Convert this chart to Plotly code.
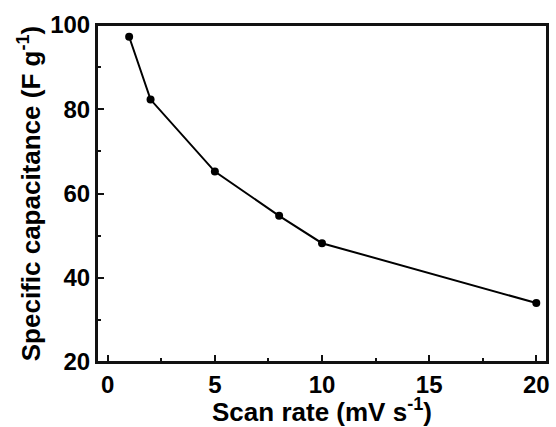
import plotly.graph_objects as go

scan_rate = [1, 2, 5, 8, 10, 20]
capacitance = [97.2, 82.3, 65.2, 54.7, 48.2, 34.0]
x_ticks = [0, 5, 10, 15, 20]
y_ticks = [20, 40, 60, 80, 100]
x_range = [-0.5, 20.5]
y_range = [20, 100]

FONT = "Liberation Sans, Arial, sans-serif"
INK = "#111111"

fig = go.Figure()
# plot frame following the axis range
fig.add_trace(go.Scatter(
    x=[x_range[0], x_range[1], x_range[1], x_range[0], x_range[0]],
    y=[y_range[0], y_range[0], y_range[1], y_range[1], y_range[0]],
    mode="lines", line=dict(color=INK, width=2), cliponaxis=False,
    showlegend=False, hoverinfo="skip",
))
fig.add_trace(go.Scatter(
    x=scan_rate, y=capacitance, mode="lines+markers",
    line=dict(color="black", width=2),
    marker=dict(color="black", size=8),
    showlegend=False,
))
for xa, ya in (("x2", "y2"), ("x3", "y3")):
    fig.add_trace(go.Scatter(
        x=scan_rate, y=capacitance, mode="markers", xaxis=xa, yaxis=ya,
        marker=dict(opacity=0), showlegend=False, hoverinfo="skip",
    ))

tick_font = dict(family=FONT, size=24, color="black", weight="bold")
title_font = dict(family=FONT, size=26, color="black", weight="bold")

def tick_axis(rng, overlay, anchor, side, tick0, dtick, length):
    return dict(
        range=rng, overlaying=overlay, anchor=anchor, side=side,
        tickmode="linear", tick0=tick0, dtick=dtick,
        ticks="inside", ticklen=length, tickwidth=2, tickcolor=INK,
        showticklabels=False, showline=False, showgrid=False, zeroline=False,
    )

x_step = x_ticks[1] - x_ticks[0]
y_step = y_ticks[1] - y_ticks[0]

fig.update_layout(
    width=556, height=427,
    margin=dict(l=97, r=6, t=25, b=65),
    paper_bgcolor="white", plot_bgcolor="white",
    xaxis=dict(
        range=x_range, tickmode="array", tickvals=x_ticks,
        ticktext=[str(v) for v in x_ticks],
        showline=True, linecolor=INK, linewidth=2, mirror=True,
        ticks="inside", ticklen=7, tickwidth=2, tickcolor=INK,
        showgrid=False, zeroline=False, tickfont=tick_font,
        title=dict(text="Scan rate (mV s<sup>-1</sup>)", font=title_font, standoff=0),
    ),
    yaxis=dict(
        range=y_range, tickmode="array", tickvals=y_ticks,
        ticktext=[str(v) for v in y_ticks],
        showline=True, linecolor=INK, linewidth=2, mirror=True,
        ticks="inside", ticklen=7, tickwidth=2, tickcolor=INK,
        showgrid=False, zeroline=False, tickfont=tick_font,
        title=dict(text="Specific capacitance (F g<sup>-1</sup>)", font=title_font, standoff=2),
    ),
    xaxis2=tick_axis(x_range, "x", "y", "bottom", x_ticks[0], x_step, 7),
    yaxis2=tick_axis(y_range, "y", "x", "left", y_ticks[0], y_step, 7),
    xaxis3=tick_axis(x_range, "x", "y", "bottom", x_ticks[0], x_step / 2, 4),
    yaxis3=tick_axis(y_range, "y", "x", "left", y_ticks[0], y_step / 2, 4),
)

fig.write_html("out.html", config={"displayModeBar": False},
               post_script="document.body.style.margin='0';")
